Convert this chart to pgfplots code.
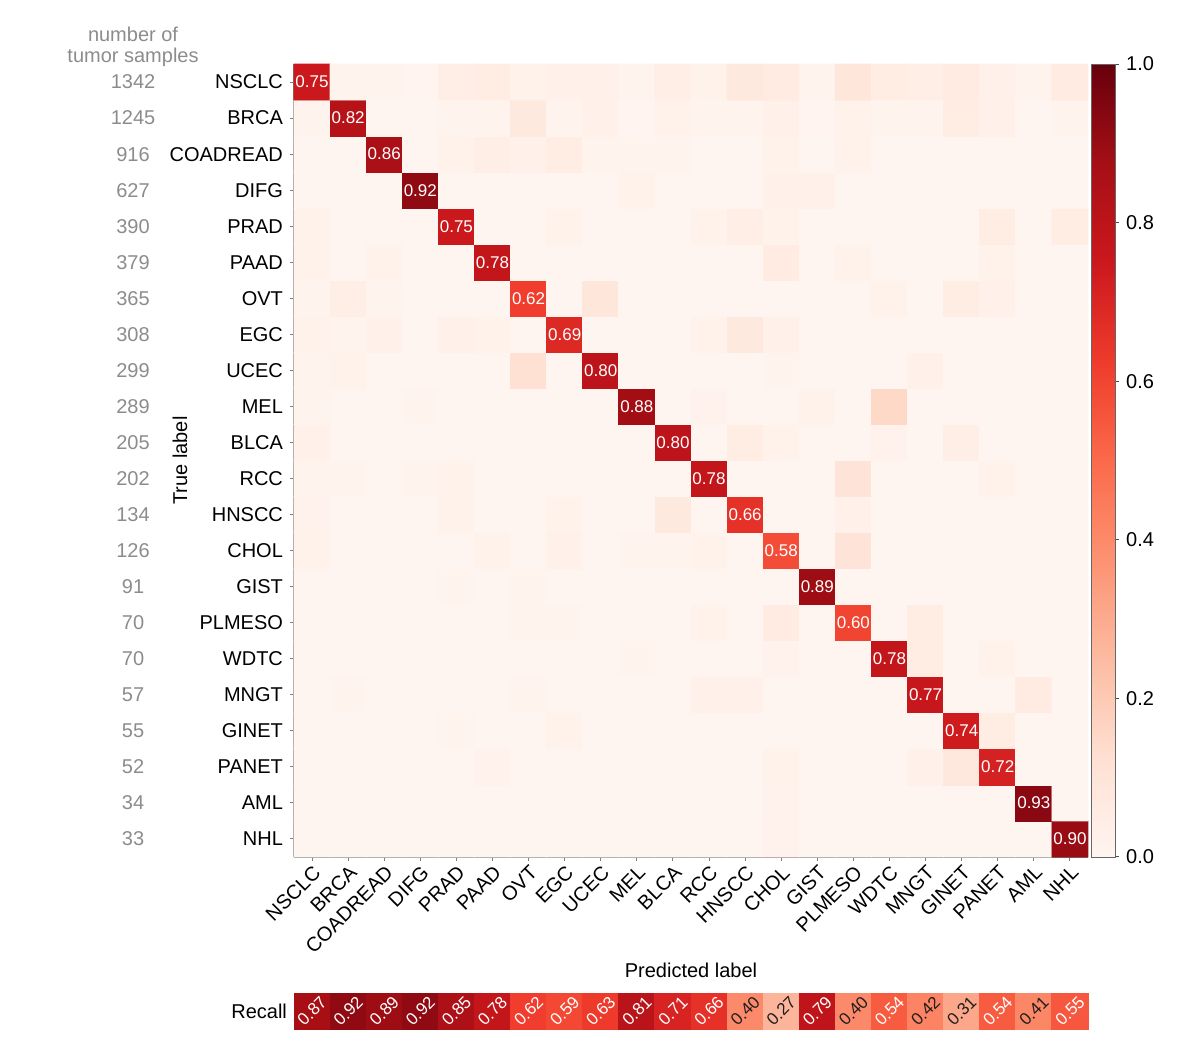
\documentclass[border=0pt]{standalone}
\usepackage{fontspec}
\setmainfont{Liberation Sans}
\usepackage{pgfplots}
\pgfplotsset{compat=1.18}

\definecolor{axisgray}{RGB}{128,128,128}
\definecolor{countgray}{RGB}{140,140,140}
\definecolor{darktext}{RGB}{30,30,30}

\pgfplotsset{
  colormap={reds}{rgb255(0pt)=(255,245,240); rgb255(1pt)=(254,224,210);
    rgb255(2pt)=(252,187,161); rgb255(3pt)=(252,146,114); rgb255(4pt)=(251,106,74);
    rgb255(5pt)=(239,59,44); rgb255(6pt)=(203,24,29); rgb255(7pt)=(165,15,21);
    rgb255(8pt)=(103,0,13)},
}
\newcommand\cellfont{\fontsize{8.5}{10}\selectfont}

\begin{document}
\begin{tikzpicture}
\path[use as bounding box] (-147pt,-94.5pt) rectangle (448.5pt,428.5pt);

% confusion matrix (rows: true label, columns: predicted label)
\begin{axis}[
  at={(0pt,0pt)}, anchor=south west,
  scale only axis, width=397pt, height=396.5pt,
  xmin=-0.5, xmax=21.5, ymin=-0.5, ymax=21.5,
  colormap name=reds, point meta min=0, point meta max=1,
  axis lines*=left,
  axis line style={axisgray, line width=0.5pt},
  tick style={axisgray, line width=0.5pt},
  tick align=outside, major tick length=2pt,
  xtick={0,...,21}, ytick={0,...,21},
  xticklabels={NSCLC,BRCA,COADREAD,DIFG,PRAD,PAAD,OVT,EGC,UCEC,MEL,BLCA,RCC,HNSCC,CHOL,GIST,PLMESO,WDTC,MNGT,GINET,PANET,AML,NHL},
  yticklabels={NHL,AML,PANET,GINET,MNGT,WDTC,PLMESO,GIST,CHOL,HNSCC,RCC,BLCA,MEL,UCEC,EGC,OVT,PAAD,PRAD,DIFG,COADREAD,BRCA,NSCLC},
  xticklabel style={rotate=45, anchor=north east, inner sep=1pt},
  xlabel={Predicted label}, ylabel={True label},
  xlabel style={at={(axis description cs:0.5,-0.1425)}, anchor=center},
  ylabel style={at={(axis description cs:-0.1436,0.5)}, anchor=center},
  clip=false,
  colorbar,
  colorbar style={
    scale only axis,
    at={(parent axis.north east)}, anchor=north west, xshift=-7pt,
    width=12pt,
    ytick={0,0.2,0.4,0.6,0.8,1}, yticklabels={0.0,0.2,0.4,0.6,0.8,1.0},
    ytick pos=right, yticklabel pos=right,
    axis line style={draw=black!60, line width=0.4pt},
    ytick style={draw=black!70, line width=0.5pt},
    major tick length=2pt, tick align=outside,
  },
]
\addplot[matrix plot*, mesh/cols=22, point meta=explicit] coordinates {
(0,0)[0] (1,0)[0] (2,0)[0] (3,0)[0] (4,0)[0] (5,0)[0] (6,0)[0] (7,0)[0] (8,0)[0] (9,0)[0] (10,0)[0] (11,0)[0] (12,0)[0] (13,0)[0.015] (14,0)[0] (15,0)[0] (16,0)[0] (17,0)[0] (18,0)[0] (19,0)[0] (20,0)[0] (21,0)[0.90]
(0,1)[0] (1,1)[0] (2,1)[0] (3,1)[0] (4,1)[0] (5,1)[0] (6,1)[0] (7,1)[0] (8,1)[0] (9,1)[0] (10,1)[0] (11,1)[0] (12,1)[0] (13,1)[0.015] (14,1)[0] (15,1)[0] (16,1)[0] (17,1)[0] (18,1)[0] (19,1)[0] (20,1)[0.93] (21,1)[0]
(0,2)[0] (1,2)[0] (2,2)[0] (3,2)[0] (4,2)[0] (5,2)[0.015] (6,2)[0] (7,2)[0] (8,2)[0] (9,2)[0] (10,2)[0] (11,2)[0] (12,2)[0] (13,2)[0.02] (14,2)[0] (15,2)[0] (16,2)[0] (17,2)[0.03] (18,2)[0.08] (19,2)[0.72] (20,2)[0] (21,2)[0]
(0,3)[0] (1,3)[0] (2,3)[0] (3,3)[0] (4,3)[0.01] (5,3)[0] (6,3)[0] (7,3)[0.02] (8,3)[0] (9,3)[0] (10,3)[0] (11,3)[0] (12,3)[0] (13,3)[0] (14,3)[0] (15,3)[0] (16,3)[0] (17,3)[0] (18,3)[0.74] (19,3)[0.05] (20,3)[0] (21,3)[0]
(0,4)[0] (1,4)[0.01] (2,4)[0] (3,4)[0] (4,4)[0] (5,4)[0] (6,4)[0.01] (7,4)[0] (8,4)[0] (9,4)[0] (10,4)[0] (11,4)[0.03] (12,4)[0.03] (13,4)[0] (14,4)[0] (15,4)[0] (16,4)[0] (17,4)[0.77] (18,4)[0] (19,4)[0] (20,4)[0.06] (21,4)[0]
(0,5)[0] (1,5)[0] (2,5)[0] (3,5)[0] (4,5)[0] (5,5)[0] (6,5)[0] (7,5)[0] (8,5)[0] (9,5)[0.01] (10,5)[0] (11,5)[0] (12,5)[0] (13,5)[0.015] (14,5)[0] (15,5)[0] (16,5)[0.78] (17,5)[0.05] (18,5)[0] (19,5)[0.02] (20,5)[0] (21,5)[0]
(0,6)[0] (1,6)[0] (2,6)[0] (3,6)[0] (4,6)[0] (5,6)[0] (6,6)[0.01] (7,6)[0.01] (8,6)[0] (9,6)[0] (10,6)[0] (11,6)[0.02] (12,6)[0] (13,6)[0.06] (14,6)[0] (15,6)[0.60] (16,6)[0] (17,6)[0.05] (18,6)[0] (19,6)[0] (20,6)[0] (21,6)[0]
(0,7)[0] (1,7)[0] (2,7)[0] (3,7)[0] (4,7)[0.01] (5,7)[0] (6,7)[0.01] (7,7)[0] (8,7)[0] (9,7)[0] (10,7)[0] (11,7)[0] (12,7)[0] (13,7)[0] (14,7)[0.89] (15,7)[0] (16,7)[0] (17,7)[0] (18,7)[0] (19,7)[0] (20,7)[0] (21,7)[0]
(0,8)[0.02] (1,8)[0] (2,8)[0] (3,8)[0] (4,8)[0] (5,8)[0.02] (6,8)[0] (7,8)[0.03] (8,8)[0] (9,8)[0.01] (10,8)[0.01] (11,8)[0.02] (12,8)[0] (13,8)[0.58] (14,8)[0] (15,8)[0.10] (16,8)[0] (17,8)[0] (18,8)[0] (19,8)[0] (20,8)[0] (21,8)[0]
(0,9)[0.015] (1,9)[0] (2,9)[0] (3,9)[0] (4,9)[0.02] (5,9)[0] (6,9)[0] (7,9)[0.02] (8,9)[0] (9,9)[0] (10,9)[0.07] (11,9)[0] (12,9)[0.66] (13,9)[0] (14,9)[0] (15,9)[0.03] (16,9)[0] (17,9)[0] (18,9)[0] (19,9)[0] (20,9)[0] (21,9)[0]
(0,10)[0.01] (1,10)[0.01] (2,10)[0] (3,10)[0.01] (4,10)[0.02] (5,10)[0] (6,10)[0] (7,10)[0] (8,10)[0] (9,10)[0] (10,10)[0] (11,10)[0.78] (12,10)[0] (13,10)[0] (14,10)[0] (15,10)[0.10] (16,10)[0] (17,10)[0] (18,10)[0] (19,10)[0.02] (20,10)[0] (21,10)[0]
(0,11)[0.03] (1,11)[0] (2,11)[0] (3,11)[0] (4,11)[0] (5,11)[0] (6,11)[0] (7,11)[0] (8,11)[0] (9,11)[0] (10,11)[0.80] (11,11)[0] (12,11)[0.05] (13,11)[0.02] (14,11)[0] (15,11)[0] (16,11)[0.015] (17,11)[0] (18,11)[0.04] (19,11)[0] (20,11)[0] (21,11)[0]
(0,12)[0.01] (1,12)[0] (2,12)[0] (3,12)[0.01] (4,12)[0] (5,12)[0] (6,12)[0] (7,12)[0] (8,12)[0] (9,12)[0.88] (10,12)[0] (11,12)[0.015] (12,12)[0] (13,12)[0] (14,12)[0.02] (15,12)[0] (16,12)[0.15] (17,12)[0] (18,12)[0] (19,12)[0] (20,12)[0] (21,12)[0]
(0,13)[0.01] (1,13)[0.02] (2,13)[0] (3,13)[0] (4,13)[0] (5,13)[0] (6,13)[0.12] (7,13)[0] (8,13)[0.80] (9,13)[0] (10,13)[0] (11,13)[0] (12,13)[0] (13,13)[0.01] (14,13)[0] (15,13)[0] (16,13)[0] (17,13)[0.03] (18,13)[0] (19,13)[0] (20,13)[0] (21,13)[0]
(0,14)[0.02] (1,14)[0.01] (2,14)[0.03] (3,14)[0] (4,14)[0.025] (5,14)[0.02] (6,14)[0] (7,14)[0.69] (8,14)[0] (9,14)[0] (10,14)[0] (11,14)[0.02] (12,14)[0.07] (13,14)[0.03] (14,14)[0] (15,14)[0] (16,14)[0] (17,14)[0] (18,14)[0] (19,14)[0] (20,14)[0] (21,14)[0]
(0,15)[0.01] (1,15)[0.04] (2,15)[0.01] (3,15)[0] (4,15)[0] (5,15)[0] (6,15)[0.62] (7,15)[0] (8,15)[0.09] (9,15)[0] (10,15)[0] (11,15)[0] (12,15)[0] (13,15)[0] (14,15)[0] (15,15)[0] (16,15)[0.02] (17,15)[0] (18,15)[0.05] (19,15)[0.03] (20,15)[0] (21,15)[0]
(0,16)[0.02] (1,16)[0] (2,16)[0.02] (3,16)[0] (4,16)[0] (5,16)[0.78] (6,16)[0] (7,16)[0] (8,16)[0] (9,16)[0] (10,16)[0] (11,16)[0] (12,16)[0] (13,16)[0.06] (14,16)[0] (15,16)[0.02] (16,16)[0] (17,16)[0] (18,16)[0] (19,16)[0.02] (20,16)[0] (21,16)[0]
(0,17)[0.02] (1,17)[0] (2,17)[0] (3,17)[0] (4,17)[0.75] (5,17)[0] (6,17)[0] (7,17)[0.02] (8,17)[0] (9,17)[0] (10,17)[0] (11,17)[0.02] (12,17)[0.04] (13,17)[0.02] (14,17)[0] (15,17)[0] (16,17)[0] (17,17)[0] (18,17)[0] (19,17)[0.05] (20,17)[0] (21,17)[0.05]
(0,18)[0] (1,18)[0] (2,18)[0] (3,18)[0.92] (4,18)[0] (5,18)[0] (6,18)[0] (7,18)[0] (8,18)[0] (9,18)[0.02] (10,18)[0] (11,18)[0] (12,18)[0] (13,18)[0.03] (14,18)[0.03] (15,18)[0] (16,18)[0] (17,18)[0] (18,18)[0] (19,18)[0] (20,18)[0] (21,18)[0]
(0,19)[0] (1,19)[0] (2,19)[0.86] (3,19)[0] (4,19)[0.02] (5,19)[0.04] (6,19)[0.03] (7,19)[0.05] (8,19)[0.01] (9,19)[0.01] (10,19)[0.01] (11,19)[0] (12,19)[0] (13,19)[0.02] (14,19)[0] (15,19)[0.02] (16,19)[0] (17,19)[0] (18,19)[0] (19,19)[0] (20,19)[0] (21,19)[0]
(0,20)[0.01] (1,20)[0.82] (2,20)[0] (3,20)[0] (4,20)[0.01] (5,20)[0.01] (6,20)[0.07] (7,20)[0.01] (8,20)[0.03] (9,20)[0.005] (10,20)[0.02] (11,20)[0.01] (12,20)[0.01] (13,20)[0.03] (14,20)[0.005] (15,20)[0.02] (16,20)[0.01] (17,20)[0.01] (18,20)[0.05] (19,20)[0.03] (20,20)[0] (21,20)[0.01]
(0,21)[0.75] (1,21)[0.01] (2,21)[0.01] (3,21)[0.005] (4,21)[0.04] (5,21)[0.05] (6,21)[0.02] (7,21)[0.03] (8,21)[0.03] (9,21)[0.01] (10,21)[0.04] (11,21)[0.02] (12,21)[0.07] (13,21)[0.06] (14,21)[0.01] (15,21)[0.09] (16,21)[0.05] (17,21)[0.04] (18,21)[0.06] (19,21)[0.03] (20,21)[0.01] (21,21)[0.06]
};

% diagonal values
\addplot[draw=none, nodes near coords, point meta=explicit symbolic,
  nodes near coords align=center,
  nodes near coords style={white, anchor=center, font=\cellfont}] coordinates {
(0,21)[0.75] (1,20)[0.82] (2,19)[0.86] (3,18)[0.92] (4,17)[0.75] (5,16)[0.78]
(6,15)[0.62] (7,14)[0.69] (8,13)[0.80] (9,12)[0.88] (10,11)[0.80] (11,10)[0.78]
(12,9)[0.66] (13,8)[0.58] (14,7)[0.89] (15,6)[0.60] (16,5)[0.78] (17,4)[0.77]
(18,3)[0.74] (19,2)[0.72] (20,1)[0.93] (21,0)[0.90]
};

% number of tumor samples per class
\addplot[draw=none, nodes near coords, point meta=explicit symbolic,
  nodes near coords align=center,
  nodes near coords style={countgray, anchor=center}] coordinates {
(-4.96,21)[1342] (-4.96,20)[1245] (-4.96,19)[916] (-4.96,18)[627] (-4.96,17)[390]
(-4.96,16)[379] (-4.96,15)[365] (-4.96,14)[308] (-4.96,13)[299] (-4.96,12)[289]
(-4.96,11)[205] (-4.96,10)[202] (-4.96,9)[134] (-4.96,8)[126] (-4.96,7)[91]
(-4.96,6)[70] (-4.96,5)[70] (-4.96,4)[57] (-4.96,3)[55] (-4.96,2)[52]
(-4.96,1)[34] (-4.96,0)[33]
};
\node[countgray, align=center, font=\fontsize{10}{10.5}\selectfont, anchor=center]
  at (axis cs:-4.96,21.98) {number of\\tumor samples};
\end{axis}

% per-class recall strip
\begin{axis}[
  at={(0pt,-68pt)}, anchor=north west,
  scale only axis, width=397pt, height=18pt,
  xmin=-0.5, xmax=21.5, ymin=-0.5, ymax=0.5,
  colormap name=reds, point meta min=0, point meta max=1,
  axis line style={draw=none},
  xtick=\empty, ytick={0}, yticklabels={Recall},
  major tick length=0pt,
  clip=false,
]
\addplot[scatter, only marks, mark=square*, mark size=9.03pt, point meta=explicit,
  scatter/use mapped color={draw=mapped color, fill=mapped color}] coordinates {
(0,0)[0.87] (1,0)[0.92] (2,0)[0.89] (3,0)[0.92] (4,0)[0.85] (5,0)[0.78]
(6,0)[0.62] (7,0)[0.59] (8,0)[0.63] (9,0)[0.81] (10,0)[0.71] (11,0)[0.66]
(12,0)[0.40] (13,0)[0.27] (14,0)[0.79] (15,0)[0.40] (16,0)[0.54] (17,0)[0.42]
(18,0)[0.31] (19,0)[0.54] (20,0)[0.41] (21,0)[0.55]
};
\addplot[draw=none, nodes near coords, point meta=explicit symbolic,
  nodes near coords align=center,
  nodes near coords style={white, anchor=center, rotate=45, font=\cellfont}] coordinates {
(0,0)[0.87] (1,0)[0.92] (2,0)[0.89] (3,0)[0.92] (4,0)[0.85] (5,0)[0.78]
(6,0)[0.62] (7,0)[0.59] (8,0)[0.63] (9,0)[0.81] (10,0)[0.71] (11,0)[0.66]
(14,0)[0.79] (16,0)[0.54] (19,0)[0.54] (21,0)[0.55]
};
\addplot[draw=none, nodes near coords, point meta=explicit symbolic,
  nodes near coords align=center,
  nodes near coords style={darktext, anchor=center, rotate=45, font=\cellfont}] coordinates {
(12,0)[0.40] (13,0)[0.27] (15,0)[0.40] (17,0)[0.42] (18,0)[0.31] (20,0)[0.41]
};
\end{axis}
\end{tikzpicture}
\end{document}
